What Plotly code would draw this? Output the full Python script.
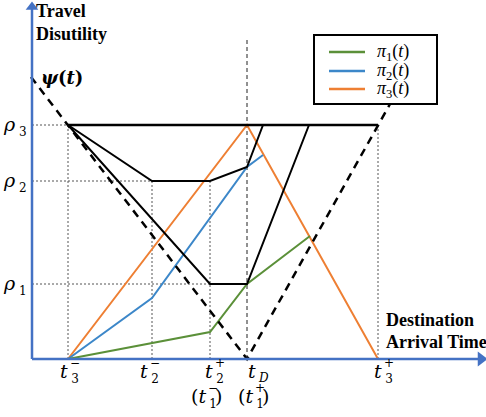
import plotly.graph_objects as go

# Key arrival times (horizontal units) and disutility levels (vertical units)
T3M, T2M, T2P, TD, T3P = 36, 120, 178, 215, 346
RHO1, RHO2, RHO3 = 75, 178, 234

# Schedule-delay penalty psi(t): early branch and late branch
psi_x = [-1, TD, 358]
psi_y = [282, 0, 255]

# Route travel-disutility paths (black)
top_x = [T3M, T3P]
top_y = [RHO3, RHO3]
path2_x = [T3M, T2M, T2P, TD, 231]
path2_y = [RHO3, RHO2, RHO2, 192, RHO3]
path1_x = [T3M, T2P, TD, 277]
path1_y = [RHO3, RHO1, RHO1, RHO3]

# Cumulative curves pi_k(t)
pi1_x = [T3M, T2P, TD, 278]
pi1_y = [0, 27, RHO1, 123]
pi2_x = [T3M, T2M, TD, 231]
pi2_y = [0, 61, 192, 204]
pi3_x = [T3M, TD, T3P]
pi3_y = [0, RHO3, 0]

# Axis extents
X_END, Y_END = 447, 350

GREEN, BLUE, ORANGE, AXIS = "#5B9039", "#3C87C9", "#EE7F33", "#4472C4"

fig = go.Figure()

def line(x, y, color, width, dash=None):
    fig.add_trace(go.Scatter(x=x, y=y, mode="lines", hoverinfo="skip",
                             line=dict(color=color, width=width, dash=dash),
                             showlegend=False))

# Dotted guide lines
guide = dict(color="#555555", width=1, dash="2px,2px")
for gx, gy in [([T3M, T3M], [0, RHO3]), ([T2M, T2M], [0, RHO2]),
               ([T2P, T2P], [0, RHO2]), ([T3P, T3P], [0, RHO3]),
               ([0, T3M], [RHO3, RHO3]), ([0, T2M], [RHO2, RHO2]),
               ([0, T2P], [RHO1, RHO1])]:
    fig.add_trace(go.Scatter(x=gx, y=gy, mode="lines", hoverinfo="skip",
                             line=guide, showlegend=False))
# Desired arrival time marker
line([TD, TD], [0, 322], "#222222", 1, "4px,3px")

line(pi3_x, pi3_y, ORANGE, 2)
line(pi2_x, pi2_y, BLUE, 2)
line(pi1_x, pi1_y, GREEN, 2)
line(top_x, top_y, "black", 2.5)
line(path2_x, path2_y, "black", 2)
line(path1_x, path1_y, "black", 2)
line(psi_x, psi_y, "black", 2.5, "8px,6px")

# Axes with arrowheads
line([0, X_END], [0, 0], AXIS, 2.5)
line([0, 0], [0, Y_END], AXIS, 2.5)
fig.add_trace(go.Scatter(x=[X_END + 2], y=[0], mode="markers", hoverinfo="skip",
                         marker=dict(symbol="triangle-right", size=13, color=AXIS),
                         showlegend=False))
fig.add_trace(go.Scatter(x=[0], y=[Y_END + 2], mode="markers", hoverinfo="skip",
                         marker=dict(symbol="triangle-up", size=11, color=AXIS),
                         showlegend=False))

ann = []
serif_b = dict(family="Liberation Serif", size=18, color="black")
math = dict(family="DejaVu Serif", size=19, color="black")
psi_font = dict(family="DejaVu Serif", size=18, color="black")
small = dict(family="DejaVu Serif", size=12, color="black")
legend_font = dict(family="Liberation Serif", size=18, color="black")

def txt(x, y, s, font, xanchor="center", yanchor="middle", xs=0, ys=0):
    ann.append(dict(x=x, y=y, text=s, font=font, showarrow=False, xref="x",
                    yref="y", xanchor=xanchor, yanchor=yanchor, xshift=xs,
                    yshift=ys, align="center"))

txt(5, 352, "<b>Travel</b>", serif_b, "left", "top", xs=-3, ys=8)
txt(5, 330, "<b>Disutility</b>", serif_b, "left", "top", xs=-3, ys=7)
txt(355, 39, "<b>Destination</b>", serif_b, "left", "middle", xs=-3)
txt(355, 17, "<b>Arrival Time</b>", serif_b, "left", "middle", xs=-3)
txt(12, 282, "<b><i>ψ</i>(<i>t</i>)</b>", psi_font, "left", "middle", xs=-5)

# Disutility level labels
for lvl, k in [(RHO3, "3"), (RHO2, "2"), (RHO1, "1")]:
    txt(-14, lvl, "<i>ρ</i>", math, "right", "middle", xs=0, ys=1)
    txt(-15, lvl, k, small, "left", "middle", xs=0, ys=-7)

# Arrival time tick labels: t with a stacked superscript / subscript
def tlabel(x, sub, sup, xs=0):
    txt(x, -12, "<i>t</i>", math, "right", "middle", xs=xs + 2)
    if sup:
        txt(x, -12, sup + "<br>" + sub, small, "left", "middle", xs=xs, ys=0)
    else:
        txt(x, -12, sub, small, "left", "middle", xs=xs, ys=-7)

tlabel(T3M, "3", "\u2212", 0)
tlabel(T2M, "2", "\u2212", -4)
tlabel(T2P, "2", "+", 3)
tlabel(TD, "<i>D</i>", None, 9)
tlabel(T3P, "3", "+", 4)

def tpar(x, sub, sup, xs=0):
    txt(x, -37, "(<i>t</i>", math, "right", "middle", xs=xs - 2)
    txt(x, -37, sup + "<br>" + sub, small, "left", "middle", xs=xs - 4, ys=0)
    txt(x, -37, ")", math, "left", "middle", xs=xs + 3)

tpar(T2P, "1", "\u2212", 0)
tpar(TD, "1", "+", 10)

# Legend box
shapes = [dict(type="rect", xref="x", yref="y", x0=282, x1=405, y0=255, y1=324,
               line=dict(color="black", width=2), fillcolor="white", layer="below")]
for yy, col, k in [(307, GREEN, "1"), (288, BLUE, "2"), (270, ORANGE, "3")]:
    shapes.append(dict(type="line", xref="x", yref="y", x0=297, x1=333, y0=yy, y1=yy,
                       line=dict(color=col, width=2.5)))
    txt(343, yy, "<i>π</i><sub>" + k + "</sub>(<i>t</i>)", legend_font, "left", "middle")

fig.update_layout(
    width=486, height=417, margin=dict(l=0, r=0, t=0, b=0),
    paper_bgcolor="white", plot_bgcolor="white",
    xaxis=dict(range=[-32, 454], visible=False, fixedrange=True),
    yaxis=dict(range=[-58, 359], visible=False, fixedrange=True),
    annotations=ann, shapes=shapes, showlegend=False,
)
fig.write_html("out.html")
